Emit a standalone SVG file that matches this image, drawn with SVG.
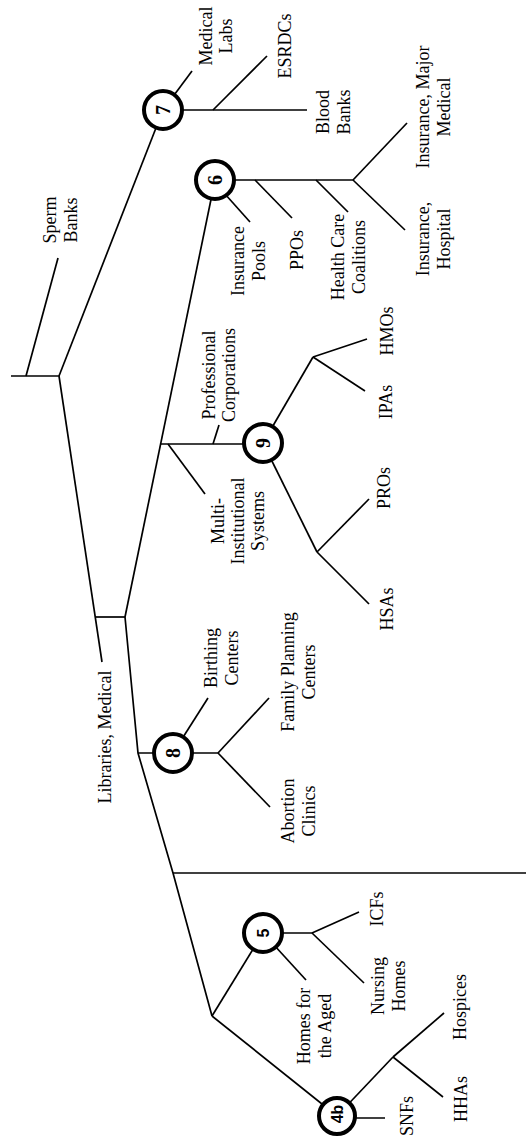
<svg xmlns="http://www.w3.org/2000/svg" width="526" height="1142" viewBox="0 0 526 1142">
  <style>
    .ln { stroke: #000; stroke-width: 1.7; fill: none; stroke-linecap: butt; }
    .hub { fill: #fff; stroke: #000; stroke-width: 4; }
    .lbl { font-family: "Liberation Serif", "Times New Roman", serif; font-size: 18px; fill: #000; text-anchor: middle; }
    .num { font-family: "Liberation Serif", "Times New Roman", serif; font-size: 20px; font-weight: bold; fill: #000; text-anchor: middle; }
    .nums { font-family: "Liberation Sans", Arial, sans-serif; font-size: 16px; font-weight: bold; fill: #000; text-anchor: middle; }
  </style>

  <rect width="526" height="1142" fill="#fff"/>

  <!-- branch lines -->
  <g id="connectors">
    <!-- spine -->
    <line class="ln" x1="58" y1="258" x2="26" y2="376"/>
    <line class="ln" x1="11" y1="376" x2="59" y2="376"/>
    <line class="ln" x1="59" y1="376" x2="163" y2="110"/>
    <line class="ln" x1="59" y1="376" x2="102" y2="662"/>
    <line class="ln" x1="96" y1="617" x2="125" y2="617"/>
    <line class="ln" x1="215" y1="180" x2="125" y2="617"/>
    <line class="ln" x1="160" y1="444" x2="263" y2="444"/>
    <line class="ln" x1="213" y1="444" x2="219" y2="425"/>
    <line class="ln" x1="168" y1="444" x2="205" y2="494"/>
    <polyline class="ln" points="125,617 138,753 173,873 212,1016"/>
    <line class="ln" x1="138" y1="753" x2="173" y2="753"/>
    <line class="ln" x1="173" y1="873" x2="526" y2="873"/>
    <line class="ln" x1="212" y1="1016" x2="263" y2="933"/>
    <line class="ln" x1="212" y1="1016" x2="337" y2="1116"/>

    <!-- hub 7 -->
    <line class="ln" x1="163" y1="110" x2="192" y2="71"/>
    <line class="ln" x1="163" y1="110" x2="307" y2="110"/>
    <line class="ln" x1="213" y1="110" x2="267" y2="56"/>

    <!-- hub 6 -->
    <line class="ln" x1="215" y1="180" x2="353" y2="180"/>
    <line class="ln" x1="225" y1="194" x2="250" y2="222"/>
    <line class="ln" x1="255" y1="180" x2="292" y2="218"/>
    <line class="ln" x1="316" y1="180" x2="348" y2="212"/>
    <line class="ln" x1="353" y1="180" x2="407" y2="123"/>
    <line class="ln" x1="353" y1="180" x2="405" y2="230"/>

    <!-- hub 9 -->
    <line class="ln" x1="263" y1="443" x2="313" y2="357"/>
    <line class="ln" x1="313" y1="357" x2="367" y2="339"/>
    <line class="ln" x1="313" y1="357" x2="365" y2="391"/>
    <line class="ln" x1="263" y1="443" x2="317" y2="552"/>
    <line class="ln" x1="317" y1="552" x2="369" y2="499"/>
    <line class="ln" x1="317" y1="552" x2="369" y2="604"/>

    <!-- hub 8 -->
    <line class="ln" x1="173" y1="753" x2="208" y2="698"/>
    <line class="ln" x1="173" y1="753" x2="218" y2="753"/>
    <line class="ln" x1="218" y1="753" x2="269" y2="698"/>
    <line class="ln" x1="218" y1="753" x2="270" y2="807"/>

    <!-- hub 5 -->
    <line class="ln" x1="263" y1="933" x2="306" y2="980"/>
    <line class="ln" x1="263" y1="933" x2="312" y2="933"/>
    <line class="ln" x1="312" y1="933" x2="359" y2="912"/>
    <line class="ln" x1="312" y1="933" x2="364" y2="983"/>

    <!-- hub 4b -->
    <line class="ln" x1="337" y1="1118" x2="385" y2="1118"/>
    <line class="ln" x1="337" y1="1116" x2="393" y2="1057"/>
    <line class="ln" x1="393" y1="1057" x2="444" y2="1013"/>
    <line class="ln" x1="393" y1="1057" x2="443" y2="1097"/>
  </g>

  <!-- numbered hubs -->
  <g id="hub-7"><circle class="hub" cx="163" cy="110" r="19"/><text class="num" transform="translate(170,110) rotate(-90)">7</text></g>
  <g id="hub-6"><circle class="hub" cx="215" cy="180" r="19"/><text class="num" transform="translate(222,180) rotate(-90)">6</text></g>
  <g id="hub-9"><circle class="hub" cx="263" cy="443" r="19"/><text class="num" transform="translate(270,443) rotate(-90)">9</text></g>
  <g id="hub-8"><circle class="hub" cx="173" cy="753" r="19"/><text class="num" transform="translate(180,753) rotate(-90)">8</text></g>
  <g id="hub-5"><circle class="hub" cx="263" cy="933" r="19"/><text class="nums" transform="translate(269,933) rotate(-90)">5</text></g>
  <g id="hub-4b"><circle class="hub" cx="337" cy="1116" r="18"/><text class="nums" transform="translate(343,1114) rotate(-90)">4b</text></g>

  <!-- leaf labels -->
  <g id="medical-labs"><text class="lbl" transform="translate(212,36) rotate(-90)"><tspan x="0" y="0">Medical</tspan><tspan x="0" y="20">Labs</tspan></text></g>
  <g id="esrdcs"><text class="lbl" transform="translate(291,46) rotate(-90)">ESRDCs</text></g>
  <g id="blood-banks"><text class="lbl" transform="translate(329,112) rotate(-90)"><tspan x="0" y="0">Blood</tspan><tspan x="0" y="21">Banks</tspan></text></g>
  <g id="sperm-banks"><text class="lbl" transform="translate(56,220) rotate(-90)"><tspan x="0" y="0">Sperm</tspan><tspan x="0" y="21">Banks</tspan></text></g>
  <g id="insurance-pools"><text class="lbl" transform="translate(244,261) rotate(-90)"><tspan x="0" y="0">Insurance</tspan><tspan x="0" y="21">Pools</tspan></text></g>
  <g id="ppos"><text class="lbl" transform="translate(303,250) rotate(-90)">PPOs</text></g>
  <g id="health-care-coalitions"><text class="lbl" transform="translate(344,257) rotate(-90)"><tspan x="0" y="0">Health Care</tspan><tspan x="0" y="21">Coalitions</tspan></text></g>
  <g id="insurance-major-medical"><text class="lbl" transform="translate(429,107) rotate(-90)"><tspan x="0" y="0">Insurance, Major</tspan><tspan x="0" y="21">Medical</tspan></text></g>
  <g id="insurance-hospital"><text class="lbl" transform="translate(429,239) rotate(-90)"><tspan x="0" y="0">Insurance,</tspan><tspan x="0" y="21">Hospital</tspan></text></g>
  <g id="professional-corporations"><text class="lbl" transform="translate(215,375) rotate(-90)"><tspan x="0" y="0">Professional</tspan><tspan x="0" y="20">Corporations</tspan></text></g>
  <g id="multi-institutional"><text class="lbl" transform="translate(224,521) rotate(-90)"><tspan x="0" y="0">Multi-</tspan><tspan x="0" y="20">Institutional</tspan><tspan x="0" y="40">Systems</tspan></text></g>
  <g id="hmos"><text class="lbl" transform="translate(393,331) rotate(-90)">HMOs</text></g>
  <g id="ipas"><text class="lbl" transform="translate(392,402) rotate(-90)">IPAs</text></g>
  <g id="pros"><text class="lbl" transform="translate(390,488) rotate(-90)">PROs</text></g>
  <g id="hsas"><text class="lbl" transform="translate(393,609) rotate(-90)">HSAs</text></g>
  <g id="libraries-medical"><text class="lbl" transform="translate(111,737) rotate(-90)">Libraries, Medical</text></g>
  <g id="birthing-centers"><text class="lbl" transform="translate(217,658) rotate(-90)"><tspan x="0" y="0">Birthing</tspan><tspan x="0" y="21">Centers</tspan></text></g>
  <g id="family-planning-centers"><text class="lbl" transform="translate(294,672) rotate(-90)"><tspan x="0" y="0">Family Planning</tspan><tspan x="0" y="21">Centers</tspan></text></g>
  <g id="abortion-clinics"><text class="lbl" transform="translate(294,811) rotate(-90)"><tspan x="0" y="0">Abortion</tspan><tspan x="0" y="21">Clinics</tspan></text></g>
  <g id="icfs"><text class="lbl" transform="translate(383,909) rotate(-90)">ICFs</text></g>
  <g id="nursing-homes"><text class="lbl" transform="translate(384,986) rotate(-90)"><tspan x="0" y="0">Nursing</tspan><tspan x="0" y="21">Homes</tspan></text></g>
  <g id="homes-for-the-aged"><text class="lbl" transform="translate(310,1026) rotate(-90)"><tspan x="0" y="0">Homes for</tspan><tspan x="0" y="21">the Aged</tspan></text></g>
  <g id="hospices"><text class="lbl" transform="translate(466,1007) rotate(-90)">Hospices</text></g>
  <g id="hhas"><text class="lbl" transform="translate(467,1099) rotate(-90)">HHAs</text></g>
  <g id="snfs"><text class="lbl" transform="translate(413,1116) rotate(-90)">SNFs</text></g>
</svg>
